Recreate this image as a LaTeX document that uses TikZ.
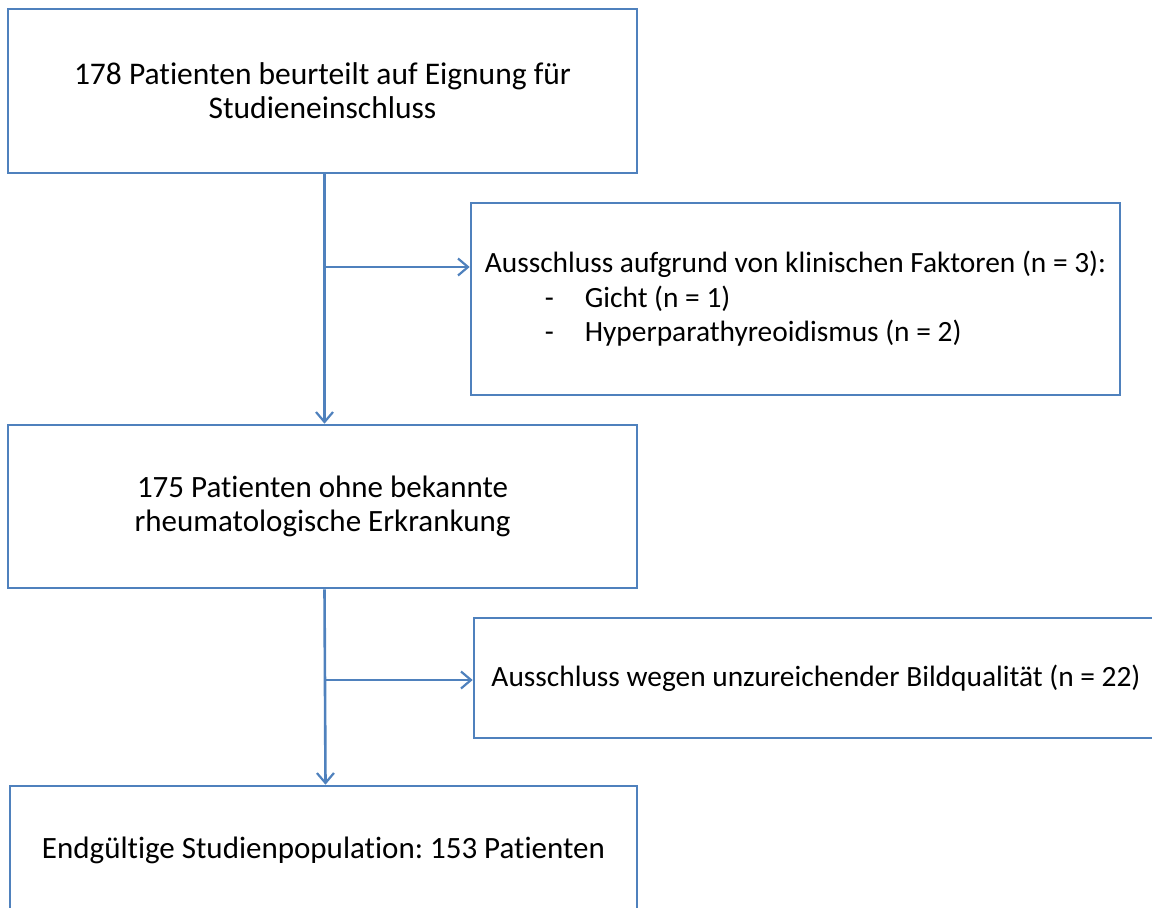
\documentclass[tikz,border=0pt]{standalone}
\usepackage{fontspec}
\setmainfont{Carlito}[Ligatures=NoCommon]
\usetikzlibrary{arrows.meta}
\definecolor{flowblue}{RGB}{79,129,189}
\frenchspacing
\begin{document}
\begin{tikzpicture}[x=1pt,y=-1pt,
  box/.style={draw=flowblue,line width=2.6pt,rectangle,inner sep=0pt,align=center,
    font=\fontsize{31}{34.5}\selectfont},
  sidebox/.style={box,font=\fontsize{29.4}{34.5}\selectfont},
  conn/.style={draw=flowblue,line width=2.6pt,-{Straight Barb[length=10pt,width=17pt,line width=2.2pt]}}]
\useasboundingbox (0,0) rectangle (1152,908);
\clip (0,0) rectangle (1152,908);
\node[box,font=\fontsize{31.5}{34}\selectfont,minimum width=629pt,minimum height=164pt] (b1) at (322.5,91)
  {178 Patienten beurteilt auf Eignung für\\Studieneinschluss};
\node[sidebox,align=left,minimum width=649pt,minimum height=192pt] (b2) at (795.5,299)
  {Ausschluss aufgrund von klinischen Faktoren (n = 3):\\
   \hspace*{60pt}-\hspace*{31pt}Gicht (n = 1)\\
   \hspace*{60pt}-\hspace*{31pt}Hyperparathyreoidismus (n = 2)};
\node[box,minimum width=629pt,minimum height=163pt] (b3) at (322.5,506.5)
  {175 Patienten ohne bekannte\\rheumatologische Erkrankung};
\node[sidebox,minimum width=684pt,minimum height=120pt] (b4) at (816,678)
  {Ausschluss wegen unzureichender Bildqualität (n = 22)};
\node[box,minimum width=627pt,minimum height=128pt] (b5) at (323.5,850)
  {Endgültige Studienpopulation: 153 Patienten};
\draw[conn] ([xshift=2pt]b1.south) -- ([xshift=2pt]b3.north);
\draw[conn] ([xshift=2pt]b3.south) -- ([xshift=2pt]b5.north);
\coordinate (j1) at (324.5,267);
\coordinate (j2) at (324.5,680);
\draw[conn] (j1) -- (j1 -| b2.west);
\draw[conn] (j2) -- (j2 -| b4.west);
\end{tikzpicture}
\end{document}
